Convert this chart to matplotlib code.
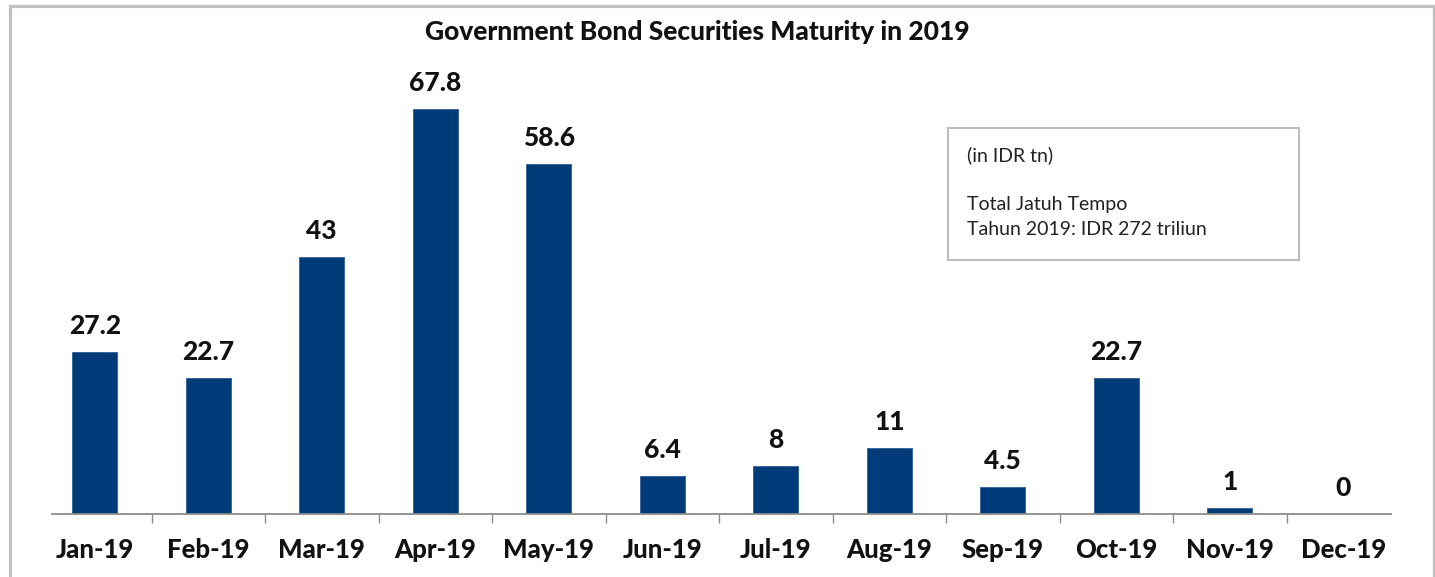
import matplotlib
matplotlib.use("Agg")
import matplotlib.pyplot as plt
from matplotlib.patches import Rectangle
import numpy as np

months = ["Jan-19", "Feb-19", "Mar-19", "Apr-19", "May-19", "Jun-19",
          "Jul-19", "Aug-19", "Sep-19", "Oct-19", "Nov-19", "Dec-19"]
values = [27.2, 22.7, 43, 67.8, 58.6, 6.4, 8, 11, 4.5, 22.7, 1, 0]
labels = ["27.2", "22.7", "43", "67.8", "58.6", "6.4", "8", "11", "4.5", "22.7", "1", "0"]
title = "Government Bond Securities Maturity in 2019"
note_lines = ["(in IDR tn)", "Total Jatuh Tempo", "Tahun 2019: IDR 272 triliun"]

W, H = 1435, 577
fig = plt.figure(figsize=(W / 100, H / 100), dpi=100)
plt.rcParams['font.family'] = ['Lato', 'DejaVu Sans']

# axes placement in pixels
ax_left, ax_right = 38, 1400
ax_base = 514
ymax = 75
px_per_unit = 5.97
ax_top = ax_base - ymax * px_per_unit
ax = fig.add_axes([ax_left / W, (H - ax_base) / H, (ax_right - ax_left) / W, (ax_base - ax_top) / H])

bar_color = "#003B79"
x = np.arange(len(months))
ax.bar(x, values, width=0.395, color=bar_color, edgecolor="#2f5f95", linewidth=0.6, zorder=2)

ax.set_xlim(-0.5, len(months) - 0.5)
ax.set_ylim(0, ymax)

for xi, v, lab in zip(x, values, labels):
    ax.annotate(lab, (xi, v), xytext=(0, 13), textcoords="offset points",
                ha="center", va="baseline", fontsize=19, fontweight="black", color="#111111")

for s in ["top", "left", "right"]:
    ax.spines[s].set_visible(False)
ax.spines["bottom"].set_color("#8c8c8c")
ax.spines["bottom"].set_linewidth(1.3)
ax.spines["bottom"].set_bounds(-0.377, 11.42)
ax.set_yticks([])
ax.set_xticks(x)
ax.set_xticklabels(months, fontsize=18.5, fontweight="black", color="#111111")
ax.tick_params(axis="x", which="major", length=0, pad=17)
ax.set_xticks(x[:-1] + 0.5, minor=True)
ax.tick_params(axis="x", which="minor", length=6.5, width=1.0, color="#8c8c8c", direction="out")

# title
fig.text(697 / W, (H - 40) / H, title, ha="center", va="baseline",
         fontsize=19, fontweight="black", color="#111111")

# note box
bx0, bx1, by0, by1 = 948, 1299, 128, 260
fig.patches.append(Rectangle((bx0 / W, (H - by1) / H), (bx1 - bx0) / W, (by1 - by0) / H,
                             transform=fig.transFigure, fill=False, edgecolor="#bdbdbd",
                             linewidth=1.5))
fig.text(967 / W, (H - 161) / H, note_lines[0], ha="left", va="baseline", fontsize=14, color="#222222")
fig.text(967 / W, (H - 210) / H, note_lines[1], ha="left", va="baseline", fontsize=14, color="#222222")
fig.text(967 / W, (H - 235) / H, note_lines[2], ha="left", va="baseline", fontsize=14, color="#222222")

# outer frame
fig.patches.append(Rectangle((9.5 / W, -0.1), (1433.5 - 9.5) / W, (H - 5.5) / H + 0.1,
                             transform=fig.transFigure, fill=False, edgecolor="#c0c0c0",
                             linewidth=2.3))

fig.savefig("out.png", dpi=100)
